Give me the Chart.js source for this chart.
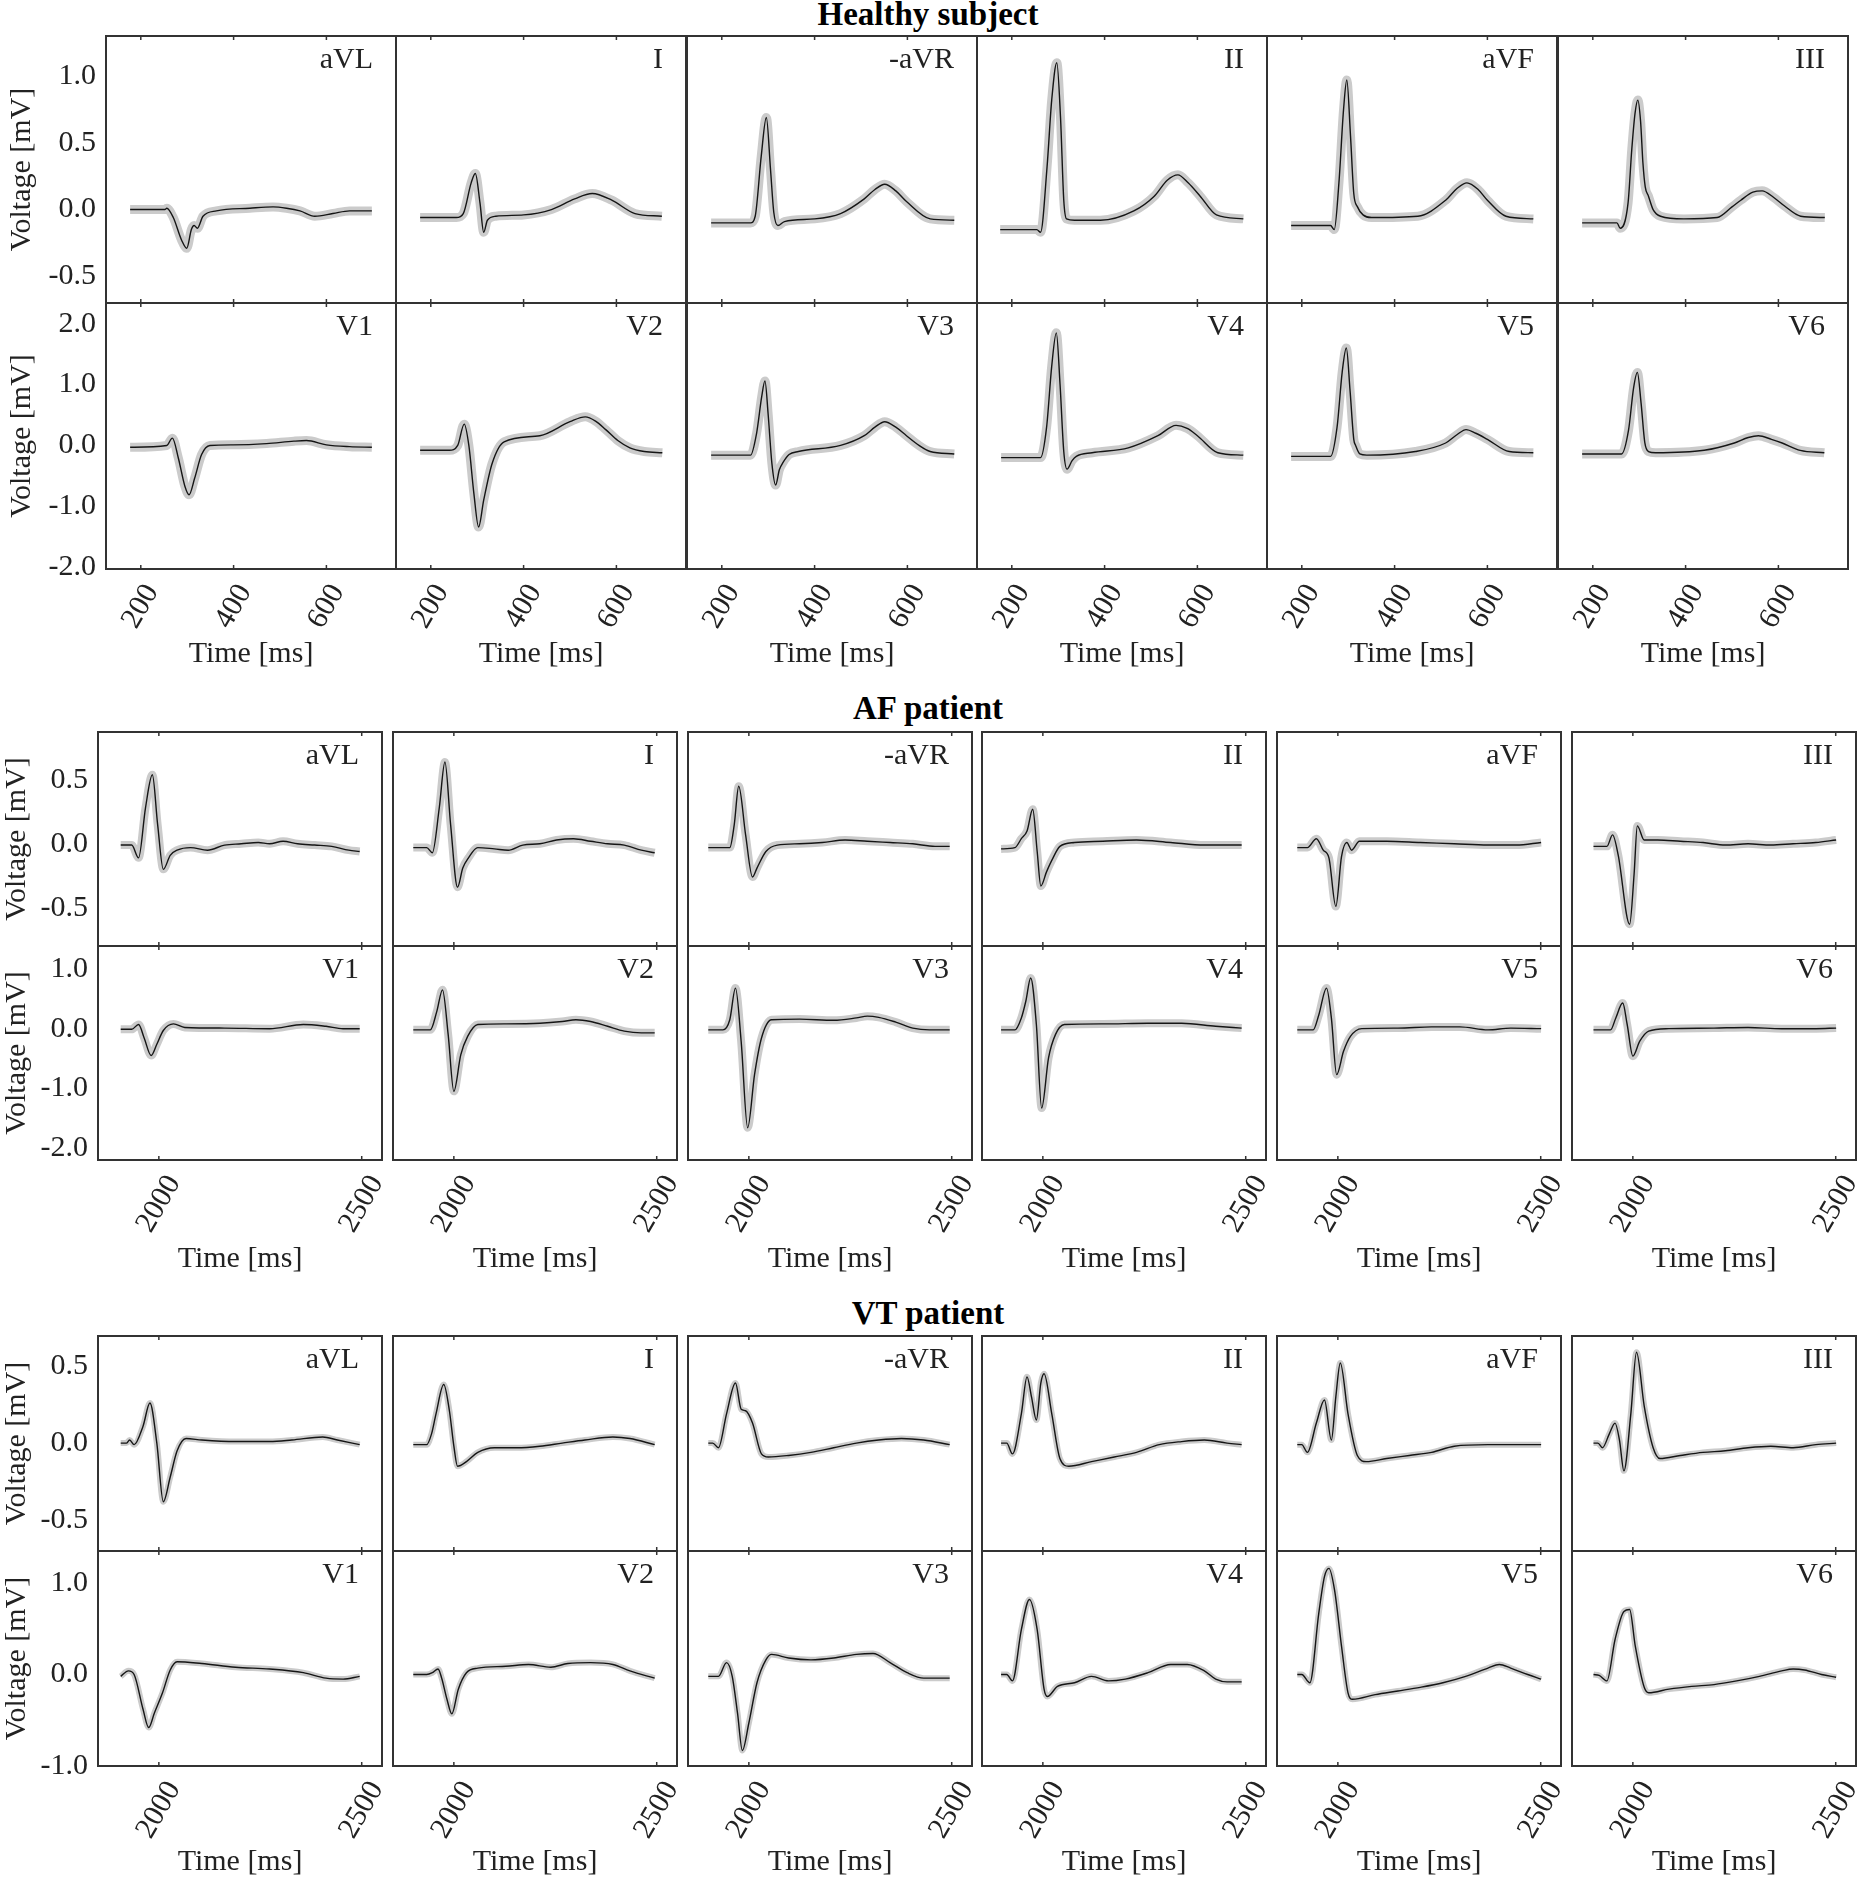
<!DOCTYPE html>
<html>
<head>
<meta charset="utf-8">
<script src="https://cdn.jsdelivr.net/npm/chart.js@4.4.1/dist/chart.umd.min.js"></script>
<style>
  body { margin: 0; background: #fff; width: 1857px; height: 1882px; position: relative; overflow: hidden; }
  canvas { position: absolute; }
  .group-title { position: absolute; left: 928px; transform: translate(-50%, -50%); white-space: nowrap;
                 font-family: 'Liberation Serif', serif; font-weight: bold; font-size: 33px; color: #000; }
</style>
</head>
<body>
<div class="group-title" style="top:14px">Healthy subject</div>
<div class="group-title" style="top:708px">AF patient</div>
<div class="group-title" style="top:1313px">VT patient</div>
<script>
// Lead order per row
const leadsLimb = ['aVL', 'I', '-aVR', 'II', 'aVF', 'III'];
const leadsChest = ['V1', 'V2', 'V3', 'V4', 'V5', 'V6'];

// Tick labels
const healthyTimeTicks = [200, 400, 600];
const patientTimeTicks = [2000, 2500];
const healthyLimbVTicks = [-0.5, 0, 0.5, 1.0];
const healthyChestVTicks = [-2, -1, 0, 1, 2];
const afLimbVTicks = [-0.5, 0, 0.5];
const afChestVTicks = [-2, -1, 0, 1];
const vtLimbVTicks = [-0.5, 0, 0.5];
const vtChestVTicks = [-1, 0, 1];

// ─── Healthy subject: averaged beat, [time ms, voltage mV] ───
const H_aVL = [[177,0.0],[252,0.0],[256,0.01],[270,-0.06],[288,-0.23],[299,-0.29],[309,-0.15],[315,-0.12],[322,-0.14],[334,-0.05],[363,-0.01],[435,0.01],[485,0.02],[514,0.01],[543,-0.01],[575,-0.05],[614,-0.03],[650,-0.01],[698,-0.01]];
const H_I = [[177,-0.06],[255,-0.06],[270,-0.03],[287,0.2],[296,0.27],[306,0.05],[314,-0.17],[322,-0.08],[340,-0.05],[400,-0.04],[460,0.0],[510,0.08],[548,0.12],[590,0.07],[640,-0.03],[698,-0.05]];
const H_mAVR = [[177,-0.10],[262,-0.10],[272,-0.05],[285,0.4],[296,0.69],[305,0.3],[312,-0.02],[321,-0.12],[335,-0.09],[400,-0.07],[456,-0.03],[507,0.08],[530,0.15],[551,0.19],[575,0.14],[598,0.06],[649,-0.07],[701,-0.08]];
const H_II = [[175,-0.15],[254,-0.15],[262,-0.17],[276,0.32],[286,0.82],[297,1.10],[305,0.69],[312,0.07],[318,-0.07],[335,-0.08],[391,-0.08],[463,-0.01],[507,0.10],[535,0.22],[558,0.26],[580,0.2],[606,0.10],[641,-0.04],[699,-0.07]];
const H_aVF = [[177,-0.12],[262,-0.12],[270,-0.15],[280,0.2],[290,0.75],[297,0.97],[305,0.55],[312,0.12],[320,0.02],[332,-0.04],[350,-0.06],[450,-0.05],[510,0.07],[535,0.16],[556,0.2],[580,0.15],[600,0.07],[640,-0.05],[699,-0.07]];
const H_III = [[177,-0.10],[252,-0.10],[259,-0.14],[276,0.05],[284,0.45],[291,0.72],[297,0.82],[303,0.66],[308,0.35],[313,0.17],[320,0.1],[330,0.0],[346,-0.05],[396,-0.07],[468,-0.06],[500,0.02],[519,0.07],[545,0.13],[565,0.14],[590,0.09],[612,0.03],[648,-0.05],[700,-0.06]];
const H_V1 = [[177,-0.03],[256,0.0],[268,0.12],[281,-0.21],[295,-0.67],[304,-0.81],[316,-0.54],[331,-0.15],[349,0.0],[399,0.01],[471,0.03],[530,0.07],[557,0.08],[600,0.01],[650,-0.02],[698,-0.03]];
const H_V2 = [[177,-0.08],[240,-0.08],[258,0.0],[272,0.35],[282,0.0],[293,-0.8],[303,-1.34],[314,-0.9],[332,-0.3],[358,0.06],[435,0.16],[500,0.39],[533,0.47],[555,0.4],[577,0.26],[603,0.08],[629,-0.04],[660,-0.1],[699,-0.12]];
const H_V3 = [[177,-0.16],[262,-0.16],[275,0.2],[286,0.8],[293,1.06],[300,0.5],[308,-0.3],[316,-0.65],[324,-0.4],[332,-0.28],[345,-0.15],[365,-0.1],[456,0.0],[507,0.16],[530,0.3],[551,0.39],[575,0.3],[598,0.16],[625,0.0],[649,-0.1],[701,-0.14]];
const H_V4 = [[177,-0.20],[262,-0.20],[275,0.3],[286,1.3],[296,1.85],[304,1.0],[312,-0.1],[319,-0.39],[330,-0.25],[339,-0.18],[373,-0.12],[451,-0.04],[515,0.16],[554,0.33],[578,0.28],[600,0.16],[644,-0.12],[699,-0.16]];
const H_V5 = [[177,-0.18],[262,-0.18],[276,0.3],[287,1.2],[296,1.6],[304,0.9],[312,0.1],[316,0.0],[325,-0.14],[340,-0.16],[445,-0.1],[510,0.04],[535,0.18],[554,0.26],[575,0.2],[600,0.1],[647,-0.1],[699,-0.12]];
const H_V6 = [[177,-0.14],[262,-0.14],[277,0.25],[288,0.95],[296,1.2],[304,0.7],[312,0.05],[320,-0.1],[335,-0.12],[440,-0.08],[505,0.04],[535,0.13],[557,0.16],[585,0.1],[608,0.04],[647,-0.08],[699,-0.12]];

// ─── AF patient ───
const AF_aVL = [[1906,-0.01],[1933,-0.01],[1950,-0.11],[1967,0.28],[1984,0.54],[1997,0.15],[2011,-0.20],[2028,-0.09],[2045,-0.05],[2078,-0.03],[2120,-0.05],[2162,-0.01],[2203,0.0],[2245,0.01],[2273,0.0],[2306,0.02],[2342,0.0],[2384,-0.01],[2426,-0.02],[2468,-0.05],[2495,-0.06]];
const AF_I = [[1900,-0.03],[1933,-0.03],[1947,-0.07],[1964,0.28],[1978,0.64],[1992,0.15],[2009,-0.34],[2022,-0.19],[2036,-0.11],[2059,-0.03],[2100,-0.04],[2134,-0.05],[2170,-0.01],[2212,0.0],[2253,0.03],[2295,0.04],[2337,0.02],[2379,0.0],[2420,-0.01],[2462,-0.05],[2495,-0.07]];
const AF_mAVR = [[1900,-0.03],[1953,-0.03],[1964,0.15],[1975,0.45],[1992,0.07],[2009,-0.26],[2020,-0.19],[2042,-0.06],[2070,-0.01],[2125,0.0],[2181,0.01],[2237,0.03],[2292,0.02],[2348,0.01],[2404,0.0],[2459,-0.02],[2495,-0.02]];
const AF_II = [[1897,-0.04],[1931,-0.03],[1947,0.04],[1961,0.10],[1975,0.27],[1986,-0.06],[1995,-0.33],[2009,-0.22],[2022,-0.13],[2042,-0.02],[2078,0.01],[2148,0.02],[2231,0.03],[2315,0.01],[2398,-0.01],[2490,-0.01]];
const AF_aVF = [[1900,-0.03],[1925,-0.03],[1947,0.04],[1964,-0.05],[1978,-0.11],[1995,-0.49],[2009,-0.10],[2022,0.01],[2034,-0.05],[2053,0.02],[2120,0.02],[2203,0.01],[2287,0.0],[2370,-0.01],[2440,-0.01],[2501,0.01]];
const AF_III = [[1903,-0.02],[1936,-0.02],[1950,0.07],[1964,-0.09],[1992,-0.63],[2003,-0.24],[2011,0.14],[2028,0.03],[2061,0.03],[2117,0.02],[2173,0.01],[2228,-0.01],[2284,0.0],[2340,-0.01],[2395,0.0],[2451,0.01],[2501,0.03]];
const AF_V1 = [[1906,-0.01],[1933,-0.01],[1950,0.07],[1964,-0.16],[1981,-0.45],[1995,-0.26],[2011,-0.03],[2036,0.08],[2064,0.02],[2162,0.01],[2273,0.0],[2356,0.07],[2412,0.04],[2454,0.0],[2495,0.0]];
const AF_V2 = [[1900,-0.02],[1942,-0.02],[1958,0.29],[1972,0.65],[1986,-0.10],[2000,-1.05],[2017,-0.44],[2034,-0.13],[2059,0.07],[2128,0.08],[2212,0.09],[2267,0.12],[2301,0.15],[2337,0.12],[2379,0.04],[2420,-0.04],[2462,-0.07],[2495,-0.07]];
const AF_V3 = [[1900,-0.02],[1936,-0.02],[1953,0.15],[1967,0.68],[1981,-0.21],[1997,-1.66],[2014,-0.77],[2031,-0.16],[2056,0.15],[2125,0.16],[2209,0.14],[2265,0.18],[2292,0.21],[2320,0.19],[2362,0.11],[2404,0.01],[2445,-0.02],[2495,-0.02]];
const AF_V4 = [[1897,-0.02],[1931,-0.02],[1947,0.18],[1958,0.46],[1970,0.85],[1984,0.07],[1997,-1.33],[2014,-0.49],[2031,-0.10],[2053,0.07],[2148,0.08],[2259,0.09],[2342,0.09],[2426,0.04],[2490,0.01]];
const AF_V5 = [[1900,-0.02],[1939,-0.02],[1953,0.23],[1972,0.68],[1984,0.18],[1997,-0.77],[2014,-0.38],[2031,-0.13],[2059,0.0],[2148,0.01],[2231,0.03],[2301,0.03],[2370,-0.02],[2426,0.01],[2501,0.0]];
const AF_V6 = [[1903,-0.02],[1945,-0.02],[1958,0.18],[1975,0.43],[1986,0.07],[2000,-0.46],[2017,-0.21],[2039,-0.04],[2089,0.0],[2200,0.01],[2284,0.02],[2367,0.0],[2451,0.0],[2501,0.01]];

// ─── VT patient ───
const VT_aVL = [[1906,0.0],[1920,0.0],[1928,0.02],[1939,-0.01],[1961,0.11],[1978,0.26],[1995,0.0],[2011,-0.38],[2028,-0.22],[2045,-0.05],[2067,0.03],[2106,0.02],[2189,0.01],[2273,0.01],[2328,0.02],[2404,0.04],[2440,0.02],[2495,-0.01]];
const VT_I = [[1900,-0.01],[1933,-0.01],[1945,0.06],[1956,0.19],[1975,0.38],[1989,0.21],[2000,-0.02],[2009,-0.15],[2031,-0.12],[2059,-0.06],[2100,-0.03],[2156,-0.03],[2212,-0.02],[2267,0.0],[2323,0.02],[2392,0.04],[2434,0.03],[2495,-0.01]];
const VT_mAVR = [[1900,0.0],[1911,0.0],[1925,-0.03],[1945,0.19],[1967,0.39],[1981,0.22],[1992,0.21],[2009,0.13],[2031,-0.07],[2048,-0.09],[2098,-0.08],[2153,-0.06],[2209,-0.03],[2265,0.0],[2320,0.02],[2376,0.03],[2431,0.02],[2495,-0.01]];
const VT_II = [[1897,0.0],[1911,0.0],[1925,-0.07],[1947,0.19],[1961,0.43],[1972,0.30],[1984,0.15],[1995,0.39],[2003,0.45],[2022,0.19],[2042,-0.10],[2064,-0.15],[2120,-0.12],[2176,-0.09],[2231,-0.06],[2287,-0.01],[2342,0.01],[2398,0.02],[2454,0.0],[2490,-0.01]];
const VT_aVF = [[1900,-0.01],[1911,-0.01],[1925,-0.06],[1947,0.13],[1967,0.28],[1984,0.02],[1995,0.30],[2006,0.52],[2025,0.19],[2048,-0.08],[2070,-0.12],[2120,-0.10],[2176,-0.08],[2231,-0.06],[2287,-0.02],[2370,-0.01],[2501,-0.01]];
const VT_III = [[1903,0.0],[1914,0.0],[1925,-0.03],[1942,0.06],[1956,0.13],[1967,0.02],[1978,-0.18],[1995,0.19],[2009,0.59],[2028,0.24],[2050,-0.03],[2067,-0.10],[2117,-0.08],[2173,-0.06],[2228,-0.05],[2284,-0.03],[2340,-0.02],[2395,-0.03],[2451,-0.01],[2501,0.0]];
const VT_V1 = [[1906,-0.02],[1925,0.04],[1939,0.0],[1961,-0.38],[1975,-0.58],[1989,-0.42],[2009,-0.20],[2028,0.05],[2045,0.14],[2106,0.12],[2189,0.08],[2273,0.06],[2356,0.02],[2412,-0.04],[2454,-0.05],[2495,-0.02]];
const VT_V2 = [[1900,0.0],[1933,0.0],[1947,0.02],[1961,0.06],[1970,-0.04],[1983,-0.27],[1995,-0.43],[2011,-0.16],[2031,0.02],[2059,0.07],[2128,0.09],[2184,0.11],[2239,0.08],[2281,0.12],[2337,0.13],[2392,0.11],[2434,0.04],[2495,-0.04]];
const VT_V3 = [[1900,-0.02],[1925,-0.02],[1945,0.13],[1959,-0.02],[1972,-0.42],[1984,-0.83],[2000,-0.53],[2020,-0.09],[2042,0.16],[2056,0.22],[2098,0.18],[2153,0.16],[2209,0.18],[2265,0.22],[2306,0.23],[2348,0.13],[2390,0.02],[2431,-0.04],[2495,-0.04]];
const VT_V4 = [[1897,0.0],[1911,0.0],[1925,-0.07],[1947,0.49],[1967,0.82],[1986,0.49],[2003,-0.16],[2011,-0.24],[2036,-0.13],[2078,-0.09],[2120,-0.02],[2162,-0.07],[2203,-0.05],[2259,0.02],[2315,0.11],[2356,0.11],[2398,0.04],[2426,-0.05],[2454,-0.08],[2490,-0.08]];
const VT_V5 = [[1900,0.0],[1911,0.0],[1931,-0.09],[1953,0.67],[1967,1.07],[1978,1.16],[1992,0.92],[2009,0.31],[2025,-0.20],[2036,-0.27],[2092,-0.22],[2148,-0.18],[2203,-0.14],[2259,-0.09],[2315,-0.02],[2370,0.07],[2398,0.11],[2426,0.07],[2468,0.0],[2501,-0.05]];
const VT_V6 = [[1903,0.0],[1917,-0.01],[1936,-0.07],[1956,0.38],[1978,0.69],[1992,0.71],[2006,0.31],[2028,-0.14],[2039,-0.20],[2089,-0.16],[2145,-0.13],[2200,-0.11],[2256,-0.07],[2312,-0.02],[2367,0.04],[2395,0.06],[2423,0.05],[2465,0.0],[2501,-0.03]];

const FAMILY = "'Liberation Serif', 'DejaVu Serif', serif";
const FS = 30;
const INK = '#222';

// ─── layout of the three panel groups (page pixels) ───
const groups = [
  { left: 106, step: 290.33, width: 290.33, tops: [36, 303], heights: [267, 266],
    xMin: 125, xMax: 750, xTicks: healthyTimeTicks, band: 9,
    yRange: [[-0.7, 1.3], [-2.03, 2.34]], yTicks: [healthyLimbVTicks, healthyChestVTicks],
    yTitleX: 22, xTitleDy: 85,
    data: [[H_aVL, H_I, H_mAVR, H_II, H_aVF, H_III], [H_V1, H_V2, H_V3, H_V4, H_V5, H_V6]] },
  { left: 98, step: 294.8, width: 284, tops: [732, 946], heights: [214, 214],
    xMin: 1850, xMax: 2550, xTicks: patientTimeTicks, band: 8,
    yRange: [[-0.8, 0.875], [-2.2, 1.385]], yTicks: [afLimbVTicks, afChestVTicks],
    yTitleX: 17, xTitleDy: 99,
    data: [[AF_aVL, AF_I, AF_mAVR, AF_II, AF_aVF, AF_III], [AF_V1, AF_V2, AF_V3, AF_V4, AF_V5, AF_V6]] },
  { left: 98, step: 294.8, width: 284, tops: [1336, 1551], heights: [215, 215],
    xMin: 1850, xMax: 2550, xTicks: patientTimeTicks, band: 6,
    yRange: [[-0.7, 0.695], [-1.0, 1.35]], yTicks: [vtLimbVTicks, vtChestVTicks],
    yTitleX: 17, xTitleDy: 96,
    data: [[VT_aVL, VT_I, VT_mAVR, VT_II, VT_aVF, VT_III], [VT_V1, VT_V2, VT_V3, VT_V4, VT_V5, VT_V6]] }
];

// margins around each plot box inside its canvas
const ML = 110, MR = 30, MT = 40, MB = 130;
const LH = FS * 1.2;

// frame, lead name, inner ticks and rotated time labels
const panelPlugin = {
  id: 'panel',
  afterDraw(chart, args, opts) {
    const { ctx, chartArea: a } = chart;
    const xs = chart.scales.x;
    ctx.save();
    ctx.strokeStyle = '#333';
    ctx.lineWidth = 1.5;
    opts.xTicks.forEach(v => {
      const px = xs.getPixelForValue(v);
      ctx.beginPath();
      ctx.moveTo(px, a.bottom); ctx.lineTo(px, a.bottom - 4);
      ctx.moveTo(px, a.top); ctx.lineTo(px, a.top + 4);
      ctx.stroke();
    });
    ctx.lineWidth = 2;
    ctx.strokeRect(a.left, a.top, a.right - a.left, a.bottom - a.top);

    ctx.fillStyle = INK;
    ctx.font = `${FS}px ${FAMILY}`;
    ctx.textAlign = 'right';
    ctx.textBaseline = 'alphabetic';
    ctx.fillText(opts.lead, a.right - 23, a.top + 32);

    if (opts.showTime) {
      ctx.textAlign = 'center';
      ctx.textBaseline = 'middle';
      opts.xTicks.forEach(v => {
        const s = String(v);
        const w = ctx.measureText(s).width;
        const hb = w * Math.sin(Math.PI / 3) + 20 * Math.cos(Math.PI / 3);
        ctx.save();
        ctx.translate(xs.getPixelForValue(v), a.bottom + 13 + hb / 2);
        ctx.rotate(-Math.PI / 3);
        ctx.fillText(s, 0, 0);
        ctx.restore();
      });
    }
    ctx.restore();
  }
};

function toXY(arr) {
  return arr.map(p => ({ x: p[0], y: p[1] }));
}

function makePanel(g, row, col) {
  const boxLeft = Math.round(g.left + col * g.step);
  const boxTop = g.tops[row];
  const w = Math.round(g.width), h = g.heights[row];
  const cv = document.createElement('canvas');
  cv.width = w + ML + MR;
  cv.height = h + MT + MB;
  cv.style.left = (boxLeft - ML) + 'px';
  cv.style.top = (boxTop - MT) + 'px';
  cv.style.width = cv.width + 'px';
  cv.style.height = cv.height + 'px';
  document.body.appendChild(cv);

  const beat = g.data[row][col];
  const lead = (row === 0 ? leadsLimb : leadsChest)[col];
  const yt = g.yTicks[row];
  const font = { family: FAMILY, size: FS, lineHeight: 1.2 };

  new Chart(cv, {
    type: 'line',
    data: {
      // the first dataset is drawn last (on top)
      datasets: [
        { data: toXY(beat), borderColor: '#151515', borderWidth: 1.4, pointRadius: 0, cubicInterpolationMode: 'monotone' },
        { data: toXY(beat), borderColor: '#cbcbcb', borderWidth: g.band, pointRadius: 0, cubicInterpolationMode: 'monotone' }
      ]
    },
    options: {
      responsive: false,
      animation: false,
      devicePixelRatio: 1,
      events: [],
      layout: { padding: { top: MT, right: MR, left: 0, bottom: 0 } },
      plugins: {
        legend: { display: false },
        tooltip: { enabled: false },
        panel: { lead: lead, xTicks: g.xTicks, showTime: row === 1 }
      },
      scales: {
        x: {
          type: 'linear', min: g.xMin, max: g.xMax,
          grid: { display: false, drawTicks: false },
          border: { display: false },
          ticks: { display: false },
          afterBuildTicks: s => { s.ticks = g.xTicks.map(v => ({ value: v })); },
          afterFit: s => { s.height = MB; },
          title: {
            display: row === 1, text: 'Time [ms]', color: INK, font: font,
            padding: { top: 0, bottom: MB - g.xTitleDy - LH / 2 }
          }
        },
        y: {
          type: 'linear', min: g.yRange[row][0], max: g.yRange[row][1],
          grid: { display: false, drawTicks: false },
          border: { display: false },
          ticks: {
            display: col === 0, padding: 10, color: INK, font: font,
            callback: v => Number(v).toFixed(1)
          },
          afterBuildTicks: s => { s.ticks = yt.map(v => ({ value: v })); },
          afterFit: s => { s.width = ML; },
          title: {
            display: col === 0, text: 'Voltage [mV]', color: INK, font: font,
            padding: { top: g.yTitleX - (boxLeft - ML) - LH / 2, bottom: 0 }
          }
        }
      }
    },
    plugins: [panelPlugin]
  });
}

groups.forEach(g => {
  for (let row = 0; row < 2; row++) {
    for (let col = 0; col < 6; col++) makePanel(g, row, col);
  }
});
</script>
</body>
</html>
